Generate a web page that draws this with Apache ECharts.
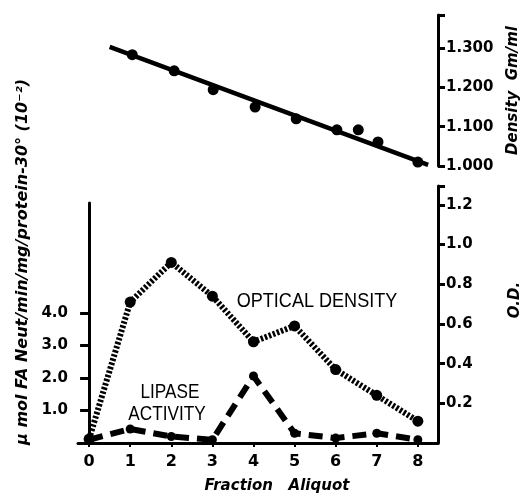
<!DOCTYPE html>
<html>
<head>
<meta charset="utf-8">
<script src="https://cdn.jsdelivr.net/npm/echarts@6/dist/echarts.min.js"></script>
<style>
  html, body { margin: 0; padding: 0; background: #fff; }
  #main { width: 528px; height: 499px; }
</style>
</head>
<body>
<div id="main"></div>
<script>
// fraction aliquots (bottom panel)
var fractions = [0, 1, 2, 3, 4, 5, 6, 7, 8];
var opticalDensity = [0.02, 0.71, 0.91, 0.74, 0.51, 0.59, 0.37, 0.24, 0.11];
var lipaseActivity = [0.1, 0.43, 0.2, 0.1, 2.06, 0.3, 0.15, 0.3, 0.1];

// density gradient (top panel)
var densityFraction = [1.05, 2.07, 3.02, 4.04, 5.04, 6.03, 6.55, 7.03, 8.0];
var densityValues = [1.283, 1.242, 1.194, 1.15, 1.12, 1.092, 1.092, 1.061, 1.01];
var fitX = [0.5, 8.25];
var fitY = [1.303, 1.003];

// tick labels
var lipaseTicks = [1, 2, 3, 4];
var odTicks = [0.2, 0.4, 0.6, 0.8, 1.0, 1.2];
var densityTicks = [1.0, 1.1, 1.2, 1.3];

var FONT = 'DejaVu Sans';
var xMin = -0.27, xMax = 8.49;
var densityMax = 1.384, odMax = 1.295, lipaseMax = 7.38;

function pairs(xs, ys) {
  var out = [];
  for (var i = 0; i < xs.length; i++) out.push([xs[i], ys[i]]);
  return out;
}

var chart = echarts.init(document.getElementById('main'), null, { renderer: 'canvas' });

var axisLine = { show: true, lineStyle: { color: '#000', width: 3 } };
var labelStyle = { color: '#000', fontFamily: FONT, fontWeight: 'bold', fontSize: 15 };

var option = {
  backgroundColor: '#fff',
  animation: false,
  grid: [
    { left: 78, right: 90, top: 15, height: 151, outerBoundsMode: 'none' },
    { left: 78, right: 90, top: 186, bottom: 56, outerBoundsMode: 'none' },
    { left: 78, right: 90, top: 203, bottom: 56, outerBoundsMode: 'none' }
  ],
  xAxis: [
    { type: 'value', gridIndex: 0, min: xMin, max: xMax, show: false },
    {
      type: 'value', gridIndex: 1, min: xMin, max: xMax,
      axisLine: axisLine,
      axisTick: { show: true, customValues: fractions, length: 4, lineStyle: { color: '#000', width: 2 } },
      axisLabel: Object.assign({}, labelStyle, { customValues: fractions, margin: 11, fontSize: 16 }),
      splitLine: { show: false },
      name: 'Fraction   Aliquot',
      nameLocation: 'middle',
      nameGap: 36,
      nameTextStyle: { color: '#000', fontFamily: FONT, fontWeight: 'bold', fontStyle: 'italic', fontSize: 15, padding: [0, 0, 0, 38] }
    },
    { type: 'value', gridIndex: 2, min: xMin, max: xMax, show: false }
  ],
  yAxis: [
    {
      type: 'value', gridIndex: 0, position: 'right', min: 1.0, max: densityMax,
      axisLine: Object.assign({ onZero: false }, axisLine),
      axisTick: { show: true, customValues: densityTicks.concat([densityMax]), length: 7, lineStyle: { color: '#000', width: 3 } },
      axisLabel: Object.assign({}, labelStyle, { customValues: densityTicks, margin: 8, formatter: function (v) { return v.toFixed(3); } }),
      splitLine: { show: false },
      name: 'Density  Gm/ml',
      nameLocation: 'middle',
      nameRotate: 90,
      nameGap: 68,
      nameTextStyle: { color: '#000', fontFamily: FONT, fontWeight: 'bold', fontStyle: 'italic', fontSize: 15 }
    },
    {
      type: 'value', gridIndex: 1, position: 'right', min: 0, max: odMax,
      axisLine: Object.assign({ onZero: false }, axisLine),
      axisTick: { show: true, customValues: odTicks.concat([odMax]), length: 7, lineStyle: { color: '#000', width: 3 } },
      axisLabel: Object.assign({}, labelStyle, { customValues: odTicks, margin: 8, formatter: function (v) { return v.toFixed(1); } }),
      splitLine: { show: false }
    },
    {
      type: 'value', gridIndex: 2, position: 'left', min: 0, max: lipaseMax,
      axisLine: Object.assign({ onZero: true }, axisLine),
      axisTick: { show: true, customValues: lipaseTicks, length: 9, lineStyle: { color: '#000', width: 3 } },
      axisLabel: Object.assign({}, labelStyle, { customValues: lipaseTicks, margin: 10, formatter: function (v) { return v.toFixed(1); } }),
      splitLine: { show: false }
    }
  ],
  graphic: [
    {
      type: 'text', x: 23, y: 262, rotation: Math.PI / 2,
      style: {
        text: 'μ mol FA Neut/min/mg/protein-30° (10⁻²)',
        fill: '#000', font: 'italic bold 16px "DejaVu Sans"',
        textAlign: 'center', textVerticalAlign: 'middle'
      }
    },
    {
      type: 'text', x: 515, y: 300, rotation: Math.PI / 2,
      style: {
        text: 'O.D.', fill: '#000', font: 'italic bold 15px "DejaVu Sans"',
        textAlign: 'center', textVerticalAlign: 'middle'
      }
    },
    {
      type: 'text', x: 317, y: 301, scaleX: 0.86,
      style: {
        text: 'OPTICAL DENSITY', fill: '#000', font: '21px "Liberation Sans"',
        textAlign: 'center', textVerticalAlign: 'middle'
      }
    },
    {
      type: 'text', x: 170, y: 392, scaleX: 0.86,
      style: {
        text: 'LIPASE', fill: '#000', font: '20px "Liberation Sans"',
        textAlign: 'center', textVerticalAlign: 'middle'
      }
    },
    {
      type: 'text', x: 167, y: 414, scaleX: 0.86,
      style: {
        text: 'ACTIVITY', fill: '#000', font: '20px "Liberation Sans"',
        textAlign: 'center', textVerticalAlign: 'middle'
      }
    }
  ],
  series: [
    {
      name: 'Density fit', type: 'line', xAxisIndex: 0, yAxisIndex: 0,
      data: pairs(fitX, fitY), showSymbol: false,
      lineStyle: { color: '#000', width: 4.5 }
    },
    {
      name: 'Density', type: 'scatter', xAxisIndex: 0, yAxisIndex: 0,
      data: pairs(densityFraction, densityValues),
      symbolSize: 11, itemStyle: { color: '#000', opacity: 1 }
    },
    {
      name: 'Optical density', type: 'line', xAxisIndex: 1, yAxisIndex: 1,
      data: pairs(fractions, opticalDensity),
      symbol: 'circle', symbolSize: 11,
      itemStyle: { color: '#000' },
      lineStyle: { color: '#000', width: 6, type: [2.5, 1.8] }
    },
    {
      name: 'Lipase activity', type: 'line', xAxisIndex: 2, yAxisIndex: 2,
      data: pairs(fractions, lipaseActivity),
      symbol: 'circle', symbolSize: 9,
      itemStyle: { color: '#000' },
      lineStyle: { color: '#000', width: 6, type: [14, 8] }
    }
  ]
};

chart.setOption(option);
</script>
</body>
</html>
